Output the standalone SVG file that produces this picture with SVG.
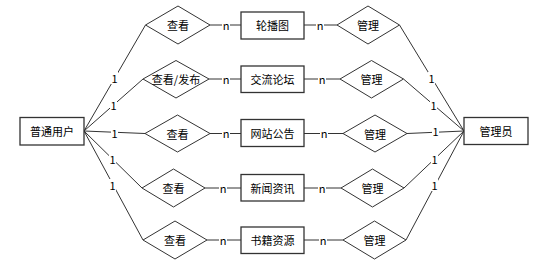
<svg xmlns="http://www.w3.org/2000/svg" width="540" height="265" viewBox="0 0 540 265">
<style>
.box{fill:#fff;stroke:#333;stroke-width:1.3}
.dia{fill:#fff;stroke:#333;stroke-width:1}
.ln{stroke:#333;stroke-width:1;fill:none}
text{font-family:"Noto Sans CJK SC","Liberation Sans",sans-serif;font-size:11px;fill:#000;text-anchor:middle;dominant-baseline:central}
.lb{fill:#fff;stroke:none}
</style>
<rect width="540" height="265" fill="#fff"/>
<g id="connectors">
<path class="ln" d="M84 131L145.5 25M84 131L143 79M84 131L145 133.5M84 131L142 188M84 131L143 240"/>
<path class="ln" d="M464 131L399.5 25M464 131L403.5 79M464 131L407 133.5M464 131L404 188M464 131L406 240"/>
<path class="ln" d="M210 25H241M209 79H241M210 133.5H241M205 188H241M207 240H241"/>
<path class="ln" d="M304 25H337M304 79H340M304 133.5H343M304 188H341M304 240H343"/>
<g>
<rect class="lb" x="111" y="72" width="7" height="12"/><text x="114.5" y="78">1</text>
<rect class="lb" x="110" y="99" width="7" height="12"/><text x="113.5" y="105">1</text>
<rect class="lb" x="111" y="127" width="7" height="12"/><text x="114.5" y="133">1</text>
<rect class="lb" x="109" y="153" width="7" height="12"/><text x="112.5" y="159">1</text>
<rect class="lb" x="109" y="179" width="7" height="12"/><text x="112.5" y="185">1</text>
<rect class="lb" x="428" y="72" width="7" height="12"/><text x="431.5" y="78">1</text>
<rect class="lb" x="430" y="99" width="7" height="12"/><text x="433.5" y="105">1</text>
<rect class="lb" x="432" y="125" width="7" height="12"/><text x="435.5" y="131">1</text>
<rect class="lb" x="431" y="153" width="7" height="12"/><text x="434.5" y="159">1</text>
<rect class="lb" x="431" y="179" width="7" height="12"/><text x="434.5" y="185">1</text>
<rect class="lb" x="222" y="19" width="8" height="12"/><text x="226" y="25">n</text>
<rect class="lb" x="222" y="73" width="8" height="12"/><text x="226" y="79">n</text>
<rect class="lb" x="222" y="127" width="8" height="12"/><text x="226" y="133">n</text>
<rect class="lb" x="219" y="182" width="8" height="12"/><text x="223" y="188">n</text>
<rect class="lb" x="219" y="234" width="8" height="12"/><text x="223" y="240">n</text>
<rect class="lb" x="316" y="19" width="8" height="12"/><text x="320" y="25">n</text>
<rect class="lb" x="318" y="73" width="8" height="12"/><text x="322" y="79">n</text>
<rect class="lb" x="320" y="127" width="8" height="12"/><text x="324" y="133">n</text>
<rect class="lb" x="318" y="182" width="8" height="12"/><text x="322" y="188">n</text>
<rect class="lb" x="319" y="234" width="8" height="12"/><text x="323" y="240">n</text>
</g>
</g>
<g id="user"><rect class="box" x="20" y="117.5" width="64" height="27.5"/><text x="52" y="131">普通用户</text></g>
<g id="admin"><rect class="box" x="464" y="117.5" width="64" height="27"/><text x="496" y="131">管理员</text></g>
<g id="e1"><rect class="box" x="241" y="12" width="63" height="27"/><text x="272.5" y="25">轮播图</text></g>
<g id="e2"><rect class="box" x="241" y="66" width="63" height="26.5"/><text x="272.5" y="79">交流论坛</text></g>
<g id="e3"><rect class="box" x="241" y="119.5" width="63" height="27"/><text x="272.5" y="133">网站公告</text></g>
<g id="e4"><rect class="box" x="241" y="174.5" width="63" height="26.5"/><text x="272.5" y="188">新闻资讯</text></g>
<g id="e5"><rect class="box" x="241" y="227" width="63" height="26.5"/><text x="272.5" y="240">书籍资源</text></g>
<g id="v1"><polygon class="dia" points="145.5,25 178,6 210,25 178,44"/><text x="178" y="25">查看</text></g>
<g id="v2"><polygon class="dia" points="143,79 176,60.5 209,79 176,98"/><text x="176" y="79">查看/发布</text></g>
<g id="v3"><polygon class="dia" points="145,133.5 177.5,115 210,133.5 177.5,152"/><text x="177.5" y="133.5">查看</text></g>
<g id="v4"><polygon class="dia" points="142,188 173.5,169 205,188 173.5,207"/><text x="173.5" y="188">查看</text></g>
<g id="v5"><polygon class="dia" points="143,240 175,221 207,240 175,259"/><text x="175" y="240">查看</text></g>
<g id="m1"><polygon class="dia" points="337,25 368,6 399.5,25 368,44"/><text x="368" y="25">管理</text></g>
<g id="m2"><polygon class="dia" points="340,79 371.5,60.5 403.5,79 371.5,98"/><text x="371.5" y="79">管理</text></g>
<g id="m3"><polygon class="dia" points="343,133.5 375,115 407,133.5 375,152"/><text x="375" y="133.5">管理</text></g>
<g id="m4"><polygon class="dia" points="341,188 372.5,169 404,188 372.5,207"/><text x="372.5" y="188">管理</text></g>
<g id="m5"><polygon class="dia" points="343,240 374.5,221 406,240 374.5,259"/><text x="374.5" y="240">管理</text></g>
</svg>
